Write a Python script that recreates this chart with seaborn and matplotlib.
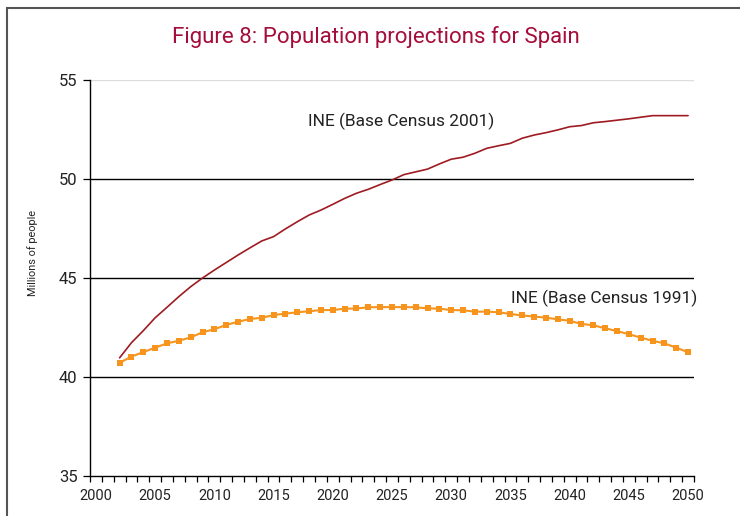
"""
Figure 8: Population projections for Spain
"""

import numpy as np
import pandas as pd
import matplotlib
matplotlib.use('Agg')
import matplotlib.pyplot as plt
import seaborn as sns
from matplotlib.patches import Rectangle
from matplotlib.ticker import MultipleLocator

# Data (millions of people)
years = list(range(2002, 2051))

census_2001 = [40.97, 41.73, 42.34, 42.99, 43.52, 44.06, 44.56, 45.00, 45.40, 45.78,
               46.16, 46.52, 46.87, 47.09, 47.48, 47.84, 48.18, 48.43, 48.72, 49.02,
               49.28, 49.48, 49.72, 49.95, 50.22, 50.36, 50.50, 50.76, 51.00, 51.10,
               51.30, 51.55, 51.68, 51.80, 52.06, 52.22, 52.34, 52.48, 52.64, 52.70,
               52.84, 52.90, 52.97, 53.04, 53.12, 53.20, 53.20, 53.20, 53.20]

census_1991 = [40.72, 41.03, 41.26, 41.48, 41.70, 41.83, 42.00, 42.26, 42.41, 42.63,
               42.79, 42.93, 42.99, 43.13, 43.20, 43.27, 43.32, 43.38, 43.38, 43.45,
               43.46, 43.52, 43.53, 43.53, 43.53, 43.52, 43.47, 43.45, 43.38, 43.37,
               43.30, 43.30, 43.27, 43.18, 43.11, 43.05, 43.00, 42.91, 42.84, 42.68,
               42.61, 42.46, 42.32, 42.16, 41.99, 41.83, 41.70, 41.48, 41.25]

year_ticks = list(range(2000, 2051, 5))
value_ticks = [35, 40, 45, 50, 55]

df = pd.DataFrame({'year': years, 'c2001': census_2001, 'c1991': census_1991})

sns.set_style('white')
plt.rcParams['font.family'] = ['Roboto', 'DejaVu Sans']

fig = plt.figure(figsize=(7.4, 5.16), dpi=100)
ax = fig.add_axes([90 / 740, 1 - 476 / 516, 604 / 740, 396 / 516])

# Horizontal gridlines
for v in value_ticks[1:]:
    ax.axhline(v, color='#dddddd' if v == 55 else 'black', linewidth=1.0, zorder=1)

# Series
sns.lineplot(data=df, x='year', y='c2001', color='#9e1b22', linewidth=1.2, ax=ax, zorder=3)
sns.lineplot(data=df, x='year', y='c1991', color='#f7941d', linewidth=1.5, marker='s',
             markersize=5, markeredgewidth=0, ax=ax, zorder=3)

ax.set_xlim(1999.5, 2050.5)
ax.set_ylim(35, 55)

ax.set_xticks(year_ticks)
ax.set_xticklabels([str(y) for y in year_ticks])
ax.xaxis.set_minor_locator(MultipleLocator(1, offset=0.5))
ax.tick_params(axis='x', which='major', length=0, pad=9, labelsize=10.5, labelcolor='#222222')
ax.tick_params(axis='x', which='minor', length=4, width=0.9, color='black', direction='out')
ax.tick_params(axis='x', which='both', bottom=True)

ax.set_yticks(value_ticks)
ax.tick_params(axis='y', length=5, width=0.9, color='black', direction='out', pad=4,
               labelsize=12, labelcolor='#222222', left=True)

for side in ['top', 'right']:
    ax.spines[side].set_visible(False)
for side in ['left', 'bottom']:
    ax.spines[side].set_color('black')
    ax.spines[side].set_linewidth(1.0)

ax.set_xlabel('')
ax.set_ylabel('Millions of people', fontsize=7.8, color='#222222')
ax.yaxis.set_label_coords((38 - 90) / 604, (476 - 253) / 396)

ax.text(2017.9, 52.93, 'INE (Base Census 2001)', fontsize=12.5, color='#222222',
        ha='left', va='center')
ax.text(2050.8, 43.99, 'INE (Base Census 1991)', fontsize=12.5, color='#222222',
        ha='right', va='center')

fig.text(376 / 740, 1 - 37 / 516, 'Figure 8: Population projections for Spain',
         fontsize=16, color='#a50d3a', ha='center', va='center')

# Frame around the figure
fig.patches.append(Rectangle((7 / 740, -0.05), 1.05, 1 - 8 / 516 + 0.05,
                             transform=fig.transFigure, fill=False,
                             edgecolor='#555555', linewidth=1.5))

plt.savefig('out.png', dpi=100)
plt.close()
